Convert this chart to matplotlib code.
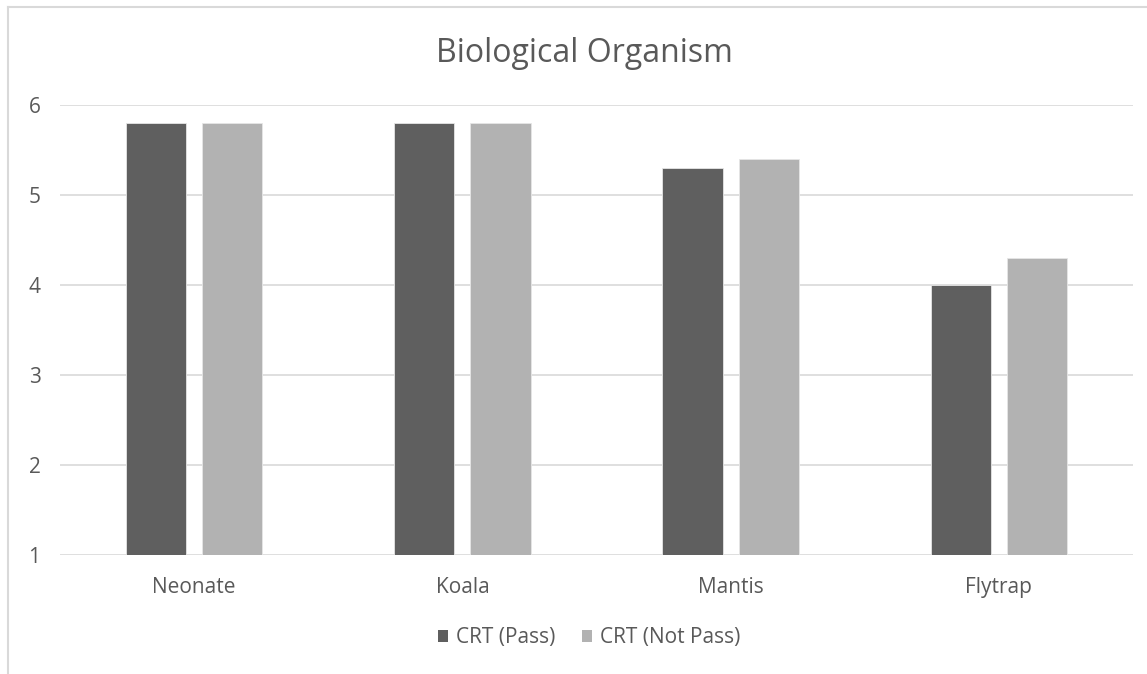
import matplotlib
matplotlib.use("Agg")
import matplotlib.pyplot as plt
import numpy as np
from matplotlib.lines import Line2D
from matplotlib.patches import Patch

categories = ["Neonate", "Koala", "Mantis", "Flytrap"]
crt_pass = [5.8, 5.8, 5.3, 4.0]
crt_not_pass = [5.8, 5.8, 5.4, 4.3]
series_names = ["CRT (Pass)", "CRT (Not Pass)"]
yticks = [1, 2, 3, 4, 5, 6]

plt.rcParams['font.family'] = ['Open Sans', 'DejaVu Sans']
W, H = 1147, 674
fig = plt.figure(figsize=(W / 100, H / 100), dpi=100)
ax = fig.add_axes([60 / W, 1 - 555 / H, (1133 - 60) / W, (555 - 105) / H])

text_color = "#595959"
c_dark = "#5F5F5F"
c_light = "#B2B2B2"
x = np.arange(len(categories))
bw = 0.224
off = 0.142
base = 1
ax.bar(x - off, np.array(crt_pass) - base, bw, bottom=base, color=c_dark,
       edgecolor="#E6E6E6", linewidth=0.6, zorder=3)
ax.bar(x + off, np.array(crt_not_pass) - base, bw, bottom=base, color=c_light,
       edgecolor="#E6E6E6", linewidth=0.6, zorder=3)

ax.set_xlim(-0.5, len(categories) - 0.5)
ax.set_ylim(1, 6)
ax.set_yticks(yticks)
ax.set_yticklabels([str(v) for v in yticks])
ax.set_xticks(x)
ax.set_xticklabels(categories)
ax.grid(axis="y", color="#D9D9D9", linewidth=1.2, zorder=0)
for s in ax.spines.values():
    s.set_visible(False)
ax.tick_params(axis="both", length=0, labelsize=15, colors=text_color)
ax.tick_params(axis="y", pad=14)
ax.tick_params(axis="x", pad=16)

fig.text(584 / W, 1 - 54 / H, "Biological Organism", ha="center", va="center",
         fontsize=23, color=text_color)

handles = [Patch(facecolor=c_dark, edgecolor="none"), Patch(facecolor=c_light, edgecolor="none")]
fig.legend(handles, series_names, loc="center", bbox_to_anchor=(589 / W, 1 - 638 / H),
           ncol=2, frameon=False, fontsize=15, labelcolor=text_color,
           handlelength=0.5, handleheight=0.5, handletextpad=0.35, columnspacing=1.3)

# chart border
fig.add_artist(Line2D([8 / W, 8 / W], [0, 1 - 7 / H], color="#D9D9D9", linewidth=1.5,
                      transform=fig.transFigure))
fig.add_artist(Line2D([8 / W, 1], [1 - 7 / H, 1 - 7 / H], color="#D9D9D9", linewidth=1.5,
                      transform=fig.transFigure))

fig.savefig("out.png", dpi=100)
